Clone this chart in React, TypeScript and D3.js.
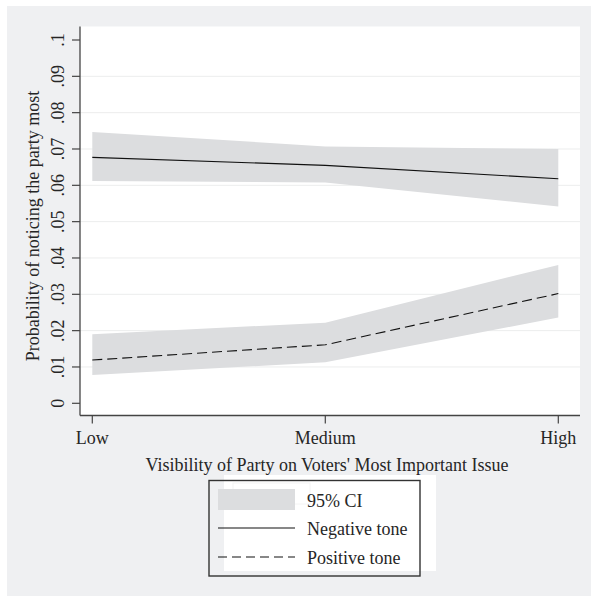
import React from "react";
import * as d3 from "d3";

// visibility levels on the x axis
const levels = ["Low", "Medium", "High"];

// predicted probabilities and 95% CI
const negFit = [0.0677, 0.0655, 0.0618];
const negLo = [0.0612, 0.0608, 0.0542];
const negHi = [0.0747, 0.0707, 0.0700];

const posFit = [0.0119, 0.0161, 0.0302];
const posLo = [0.0078, 0.0113, 0.0236];
const posHi = [0.0190, 0.0222, 0.0381];

const yTicks = [0, 0.01, 0.02, 0.03, 0.04, 0.05, 0.06, 0.07, 0.08, 0.09, 0.1];
const yTickLabels = ["0", ".01", ".02", ".03", ".04", ".05", ".06", ".07", ".08", ".09", ".1"];

const W = 591;
const H = 596;
const plot = { left: 80, right: 580, top: 26.5, bottom: 415.5 };
const FONT = "'Liberation Serif', 'Times New Roman', serif";
const FS = 18;
const TEXT = "#262626";
const BAND = "#dcdddf";

export default function App() {
  const x = d3.scalePoint<string>().domain(levels).range([92.3, 558.3]);
  const y = d3.scaleLinear().domain([0, 0.1]).range([403.3, 40]);

  // shaded CI band between lower and upper bounds
  const makeBand = (lo: number[], hi: number[]) =>
    d3
      .area<number>()
      .x((_, i) => x(levels[i]) as number)
      .y0((_, i) => y(lo[i]))
      .y1((_, i) => y(hi[i]))(lo) || "";

  const line = d3
    .line<number>()
    .x((_, i) => x(levels[i]) as number)
    .y((d) => y(d));

  return (
    <svg
      width={W}
      height={H}
      style={{ position: "absolute", left: 0, top: 0, fontFamily: FONT }}
    >
      <rect x={0} y={0} width={W} height={H} fill="#ffffff" />
      <rect x={7} y={6} width={W - 7} height={H - 6} fill="#eff0f2" />

      {/* plot region */}
      <rect
        x={plot.left}
        y={plot.top}
        width={plot.right - plot.left}
        height={plot.bottom - plot.top}
        fill="#ffffff"
      />

      {/* gridlines */}
      {yTicks
        .filter((t) => t > 0 && t < 0.1)
        .map((t) => (
          <line
            key={"g" + t}
            x1={plot.left}
            x2={plot.right}
            y1={y(t)}
            y2={y(t)}
            stroke="#eceded"
            strokeWidth={1}
          />
        ))}

      {/* confidence bands */}
      <path d={makeBand(negLo, negHi)} fill={BAND} />
      <path d={makeBand(posLo, posHi)} fill={BAND} />

      {/* fitted lines */}
      <path d={line(negFit) || ""} fill="none" stroke="#111" strokeWidth={1.1} />
      <path
        d={line(posFit) || ""}
        fill="none"
        stroke="#111"
        strokeWidth={1.1}
        strokeDasharray="10,5"
      />

      {/* axes */}
      <line x1={plot.left} x2={plot.left} y1={plot.top} y2={plot.bottom} stroke="#444" strokeWidth={1.3} />
      <line x1={plot.left} x2={plot.right} y1={plot.bottom} y2={plot.bottom} stroke="#444" strokeWidth={1.3} />

      {yTicks.map((t, i) => (
        <g key={"y" + t}>
          <line x1={plot.left - 8} x2={plot.left} y1={y(t)} y2={y(t)} stroke="#444" strokeWidth={1.2} />
          <text
            transform={`translate(64,${y(t)}) rotate(-90)`}
            textAnchor="middle"
            fontSize={FS}
            fill={TEXT}
          >
            {yTickLabels[i]}
          </text>
        </g>
      ))}

      {levels.map((l) => (
        <g key={"x" + l}>
          <line
            x1={x(l)}
            x2={x(l)}
            y1={plot.bottom}
            y2={plot.bottom + 8}
            stroke="#444"
            strokeWidth={1.2}
          />
          <text x={x(l)} y={444} textAnchor="middle" fontSize={FS} fill={TEXT}>
            {l}
          </text>
        </g>
      ))}

      {/* axis titles */}
      <text x={327} y={471} textAnchor="middle" fontSize={FS} fill={TEXT}>
        Visibility of Party on Voters' Most Important Issue
      </text>
      <text
        transform={`translate(39,${(plot.top + plot.bottom) / 2 + 5}) rotate(-90)`}
        textAnchor="middle"
        fontSize={FS}
        fill={TEXT}
      >
        Probability of noticing the party most
      </text>

      {/* legend */}
      <rect x={224} y={475} width={212} height={96} fill="#ffffff" />
      <rect x={233} y={483} width={77} height={21} fill="none" stroke="#f4f4f4" strokeWidth={1} />
      <rect x={218} y={489} width={77} height={21} fill={BAND} />
      <line x1={218} x2={295} y1={528} y2={528} stroke="#111" strokeWidth={1.1} />
      <line x1={218} x2={295} y1={557} y2={557} stroke="#111" strokeWidth={1.1} strokeDasharray="9,5" />
      <text x={307} y={507} fontSize={FS} fill={TEXT}>95% CI</text>
      <text x={307} y={535} fontSize={FS} fill={TEXT}>Negative tone</text>
      <text x={307} y={564} fontSize={FS} fill={TEXT}>Positive tone</text>
      <rect x={209} y={480.5} width={211} height={95.5} fill="none" stroke="#333" strokeWidth={1.4} />
    </svg>
  );
}
